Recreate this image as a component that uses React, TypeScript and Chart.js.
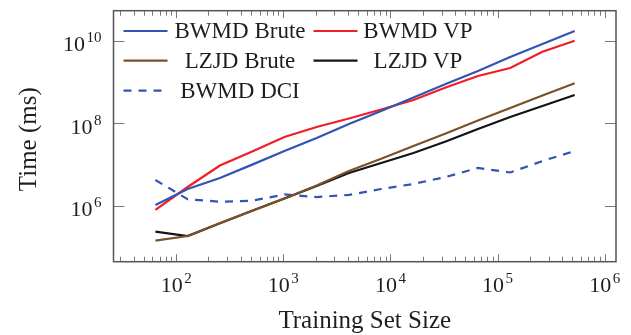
import React, { useEffect, useRef } from "react";
import { Chart, registerables } from "chart.js";

Chart.register(...registerables);

const trainingSizes = [64, 128, 256, 512, 1024, 2048, 4096, 8192, 16384, 32768, 65536, 131072, 262144, 524288];
const bwmdBrute = [1.04e6, 2.54e6, 4.7e6, 9.9e6, 2.12e7, 4.38e7, 9.57e7, 1.98e8, 4.2e8, 8.9e8, 1.84e9, 4.03e9, 8.3e9, 1.72e10];
const bwmdVP = [7.87e5, 2.84e6, 9.43e6, 2.06e7, 4.63e7, 8.09e7, 1.3e8, 2.15e8, 3.65e8, 7.33e8, 1.39e9, 2.18e9, 5.41e9, 1.0e10];
const lzjdBrute = [1.42e5, 1.84e5, 3.77e5, 7.52e5, 1.5e6, 3.09e6, 6.94e6, 1.37e7, 2.8e7, 5.63e7, 1.16e8, 2.34e8, 4.7e8, 9.27e8];
const lzjdVP = [2.34e5, 1.84e5, 3.77e5, 7.52e5, 1.5e6, 3.0e6, 6.2e6, 1.08e7, 1.9e7, 3.6e7, 7.23e7, 1.41e8, 2.61e8, 4.83e8];
const bwmdDCI = [4.2e6, 1.43e6, 1.25e6, 1.32e6, 1.87e6, 1.62e6, 1.82e6, 2.54e6, 3.36e6, 4.97e6, 8.2e6, 6.38e6, 1.21e7, 2.12e7];

const xMajorExponents = [2, 3, 4, 5, 6];
const yMajorExponents = [6, 8, 10];
const xTitle = "Training Set Size";
const yTitle = "Time (ms)";

const BLUE = "rgb(52,84,180)";
const RED = "rgb(240,30,38)";
const BROWN = "rgb(122,82,42)";
const BLACK = "rgb(20,20,20)";

const SERIF = '"Liberation Serif", "DejaVu Serif", serif';

const seriesDefs = [
  { label: "BWMD Brute", data: bwmdBrute, color: BLUE, dash: [] as number[] },
  { label: "BWMD VP", data: bwmdVP, color: RED, dash: [] as number[] },
  { label: "LZJD Brute", data: lzjdBrute, color: BROWN, dash: [] as number[] },
  { label: "LZJD VP", data: lzjdVP, color: BLACK, dash: [] as number[] },
  { label: "BWMD DCI", data: bwmdDCI, color: BLUE, dash: [8, 7] },
];

function drawPow(ctx: CanvasRenderingContext2D, exp: number, x: number, baseY: number, align: "center" | "right") {
  ctx.textAlign = "left";
  ctx.textBaseline = "alphabetic";
  ctx.font = `22px ${SERIF}`;
  const wb = ctx.measureText("10").width;
  ctx.font = `15px ${SERIF}`;
  const es = String(exp);
  const we = ctx.measureText(es).width;
  const gap = 1.5;
  const total = wb + gap + we;
  const left = align === "center" ? x - total / 2 : x - total;
  ctx.font = `22px ${SERIF}`;
  ctx.fillText("10", left, baseY);
  ctx.font = `15px ${SERIF}`;
  ctx.fillText(es, left + wb + gap, baseY - 9);
}

const decorPlugin = {
  id: "decor",
  afterDatasetsDraw(chart: any) {
    const ctx: CanvasRenderingContext2D = chart.ctx;
    const { left, right, top, bottom } = chart.chartArea;
    const xs = chart.scales.x;
    const ys = chart.scales.y;
    ctx.save();

    // ticks
    ctx.strokeStyle = "rgb(120,120,120)";
    ctx.lineWidth = 1;
    const xMin = xs.min, xMax = xs.max;
    for (let k = 1; k <= 6; k++) {
      for (let m = 1; m <= 9; m++) {
        const v = m * Math.pow(10, k);
        if (v < xMin || v > xMax) continue;
        const px = Math.round(xs.getPixelForValue(v)) + 0.5;
        const len = m === 1 ? 7.5 : 5;
        ctx.beginPath();
        ctx.moveTo(px, bottom);
        ctx.lineTo(px, bottom - len);
        ctx.moveTo(px, top);
        ctx.lineTo(px, top + len);
        ctx.stroke();
      }
    }
    for (const e of yMajorExponents) {
      const py = Math.round(ys.getPixelForValue(Math.pow(10, e))) + 0.5;
      ctx.beginPath();
      ctx.moveTo(left, py);
      ctx.lineTo(left + 11, py);
      ctx.moveTo(right, py);
      ctx.lineTo(right - 11, py);
      ctx.stroke();
    }

    // frame
    ctx.strokeStyle = "rgb(85,85,85)";
    ctx.lineWidth = 1.5;
    ctx.strokeRect(left, top, right - left, bottom - top);

    // tick labels
    ctx.fillStyle = "rgb(30,30,30)";
    for (const e of xMajorExponents) {
      const px = xs.getPixelForValue(Math.pow(10, e));
      drawPow(ctx, e, px, bottom + 30, "center");
    }
    for (const e of yMajorExponents) {
      const py = ys.getPixelForValue(Math.pow(10, e));
      drawPow(ctx, e, left - 12, py + 10.5, "right");
    }

    // axis titles
    ctx.font = `25px ${SERIF}`;
    ctx.textAlign = "center";
    ctx.textBaseline = "alphabetic";
    ctx.fillText(xTitle, (left + right) / 2, 328);
    ctx.save();
    ctx.translate(36, (top + bottom) / 2 + 3);
    ctx.rotate(-Math.PI / 2);
    ctx.fillText(yTitle, 0, 0);
    ctx.restore();

    // legend
    const cols = [
      { sx0: left + 10, sx1: left + 54, tc: 240 },
      { sx0: left + 200, sx1: left + 244, tc: 418 },
    ];
    const rows = [31, 60.7, 90.7];
    const layout = [
      [0, 0, 0],
      [1, 0, 1],
      [2, 1, 0],
      [3, 1, 1],
      [4, 2, 0],
    ];
    ctx.font = `23px ${SERIF}`;
    ctx.textAlign = "center";
    for (const [si, r, c] of layout) {
      const s = seriesDefs[si];
      const col = cols[c];
      const y = rows[r];
      ctx.strokeStyle = s.color;
      ctx.lineWidth = 2.2;
      ctx.setLineDash(s.dash);
      ctx.beginPath();
      ctx.moveTo(col.sx0, y);
      ctx.lineTo(col.sx1, y);
      ctx.stroke();
      ctx.setLineDash([]);
      ctx.fillStyle = "rgb(30,30,30)";
      ctx.fillText(s.label, col.tc, y + 7);
    }
    ctx.restore();
  },
};

export default function App() {
  const ref = useRef<HTMLCanvasElement | null>(null);
  useEffect(() => {
    if (!ref.current) return;
    const chart = new Chart(ref.current, {
      type: "line",
      data: {
        datasets: seriesDefs.map((s) => ({
          label: s.label,
          data: trainingSizes.map((x, i) => ({ x, y: s.data[i] })),
          borderColor: s.color,
          backgroundColor: s.color,
          borderWidth: 2.2,
          borderDash: s.dash,
          pointRadius: 0,
          tension: 0,
          fill: false,
        })),
      },
      options: {
        animation: false,
        responsive: true,
        maintainAspectRatio: false,
        layout: { padding: { left: 113.5, right: 15, top: 10.7, bottom: 73.3 } },
        plugins: { legend: { display: false }, tooltip: { enabled: false } },
        scales: {
          x: { type: "logarithmic", min: 26.0, max: 1.274e6, display: false },
          y: { type: "logarithmic", min: Math.pow(10, 4.642), max: Math.pow(10, 10.727), display: false },
        },
      },
      plugins: [decorPlugin],
    } as any);
    return () => chart.destroy();
  }, []);
  return (
    <div style={{ position: "absolute", left: 0, top: 0, width: 631, height: 335, background: "#fff" }}>
      <canvas ref={ref} />
    </div>
  );
}
